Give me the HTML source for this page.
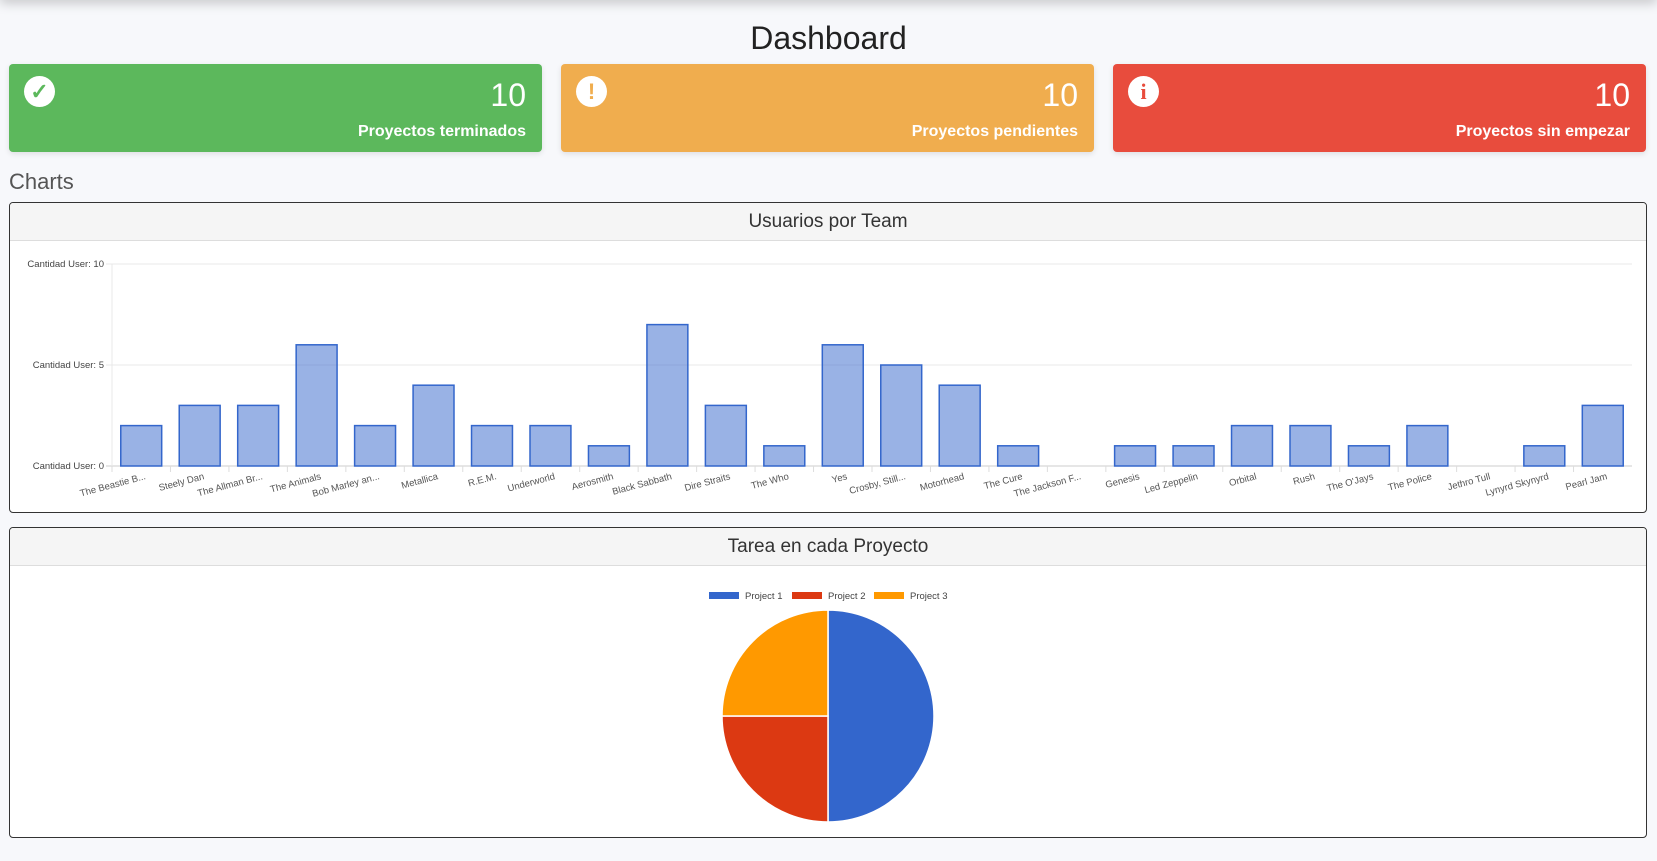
<!DOCTYPE html>
<html><head><meta charset="utf-8">
<style>
html,body{margin:0;padding:0;}
body{width:1657px;height:861px;background:#f7f8fb;font-family:"Liberation Sans",sans-serif;position:relative;overflow:hidden;}
.topbar{position:absolute;left:0;top:-10px;width:1657px;height:10px;box-shadow:0 2px 12px rgba(0,0,0,0.25);background:#fff;}
h1{position:absolute;top:20px;left:0;width:1657px;text-align:center;margin:0;font-weight:normal;font-size:32px;color:#222;}
.card{position:absolute;top:64px;height:88px;width:533px;border-radius:4px;color:#fff;box-shadow:0 2px 6px rgba(0,0,0,0.1);}
.card .num{position:absolute;right:16px;top:13px;font-size:32px;}
.card .lbl{position:absolute;right:16px;top:59px;font-size:16px;font-weight:bold;}
.card .ic{position:absolute;left:15px;top:12px;width:31px;height:31px;border-radius:50%;background:#fff;text-align:center;line-height:31px;font-weight:bold;font-size:22px;}
.charts{position:absolute;left:9px;top:169px;font-size:22px;color:#555;}
.panel{position:absolute;left:9px;width:1636px;border:1px solid #333;border-radius:4px;background:#fff;overflow:hidden;}
.panel .hd{height:37px;background:#f5f5f5;border-bottom:1px solid #ddd;text-align:center;line-height:37px;font-size:19px;color:#333;}
</style></head><body>
<div class="topbar"></div>
<h1>Dashboard</h1>
<div class="card" style="left:9px;background:#5cb85c">
 <div class="ic" style="color:#5cb85c">✓</div>
 <div class="num">10</div>
 <div class="lbl">Proyectos terminados</div></div>
<div class="card" style="left:561px;background:#f0ad4e">
 <div class="ic" style="color:#f0ad4e">!</div>
 <div class="num">10</div>
 <div class="lbl">Proyectos pendientes</div></div>
<div class="card" style="left:1113px;background:#e84c3d">
 <div class="ic" style="color:#e84c3d;font-family:'Liberation Serif',serif">i</div>
 <div class="num">10</div>
 <div class="lbl">Proyectos sin empezar</div></div>
<div class="charts">Charts</div>

<div class="panel" style="top:202px;height:309px">
 <div class="hd">Usuarios por Team</div>
 <svg id="bar" width="1636" height="272" style="position:absolute;left:0;top:38px"></svg>
</div>
<div class="panel" style="top:527px;height:309px">
 <div class="hd">Tarea en cada Proyecto</div>
 <svg id="pie" width="1636" height="272" style="position:absolute;left:0;top:38px"></svg>
</div>
<script>
const teams=["The Beastie B...","Steely Dan","The Allman Br...","The Animals","Bob Marley an...","Metallica","R.E.M.","Underworld","Aerosmith","Black Sabbath","Dire Straits","The Who","Yes","Crosby, Still...","Motorhead","The Cure","The Jackson F...","Genesis","Led Zeppelin","Orbital","Rush","The O'Jays","The Police","Jethro Tull","Lynyrd Skynyrd","Pearl Jam"];
const users=[2,3,3,6,2,4,2,2,1,7,3,1,6,5,4,1,0,1,1,2,2,1,2,0,1,3];
const yTicks=[0,5,10];
const projects=["Project 1","Project 2","Project 3"];
const tasks=[2,1,1];
const pieColors=["#3366cc","#dc3912","#ff9900"];
const NS="http://www.w3.org/2000/svg";
function mk(p,t,a){const e=document.createElementNS(NS,t);for(const k in a)e.setAttribute(k,a[k]);p.appendChild(e);return e;}
const bar=document.getElementById('bar');
const L=102,R=1622,B=225,T=23,yMax=10;
const ys=v=>B-(B-T)*v/yMax;
const bw=(R-L)/teams.length;
const xs=i=>L+bw*i;
yTicks.forEach(t=>{
 const g=mk(bar,'line',{x1:L-6,x2:R,y1:ys(t),y2:ys(t),stroke:t===0?'#ccc':'#e8e8e8'});
 
 const tx=mk(bar,'text',{x:L-8,y:ys(t)+3,'text-anchor':'end','font-size':'9.5','fill':'#444','font-family':'Liberation Sans'});
 tx.textContent='Cantidad User: '+t;
 
});
mk(bar,'line',{x1:L,x2:L,y1:T,y2:B,stroke:'#e8e8e8'});
teams.forEach((n,i)=>{
 const tk=mk(bar,'line',{x1:xs(i),x2:xs(i),y1:B,y2:B+6,stroke:'#ddd'});
 
 const w=bw*0.7,x=xs(i)+(bw-w)/2,y=ys(users[i]);
 if(users[i]>0){
  const r=mk(bar,'rect',{x:x,y:y,width:w,height:B-y,fill:'rgba(51,102,204,0.5)',stroke:'#3366cc','stroke-width':1.5});
  
 }
 const cx=xs(i)+bw/2;
 const tx=mk(bar,'text',{x:cx+5,y:B+13,'text-anchor':'end','font-size':'9.5','fill':'#555','font-family':'Liberation Sans',transform:`rotate(-15 ${cx+5} ${B+13})`});
 tx.textContent=n;
 
});
const pie=document.getElementById('pie');
const cx=818,cy=150,r=106;
const total=tasks.reduce((a,b)=>a+b,0);
let a0=-Math.PI/2;
tasks.forEach((v,i)=>{
 const a1=a0+2*Math.PI*v/total;
 const large=(a1-a0)>Math.PI?1:0;
 const d=`M${cx},${cy} L${cx+r*Math.cos(a0)},${cy+r*Math.sin(a0)} A${r},${r} 0 ${large} 1 ${cx+r*Math.cos(a1)},${cy+r*Math.sin(a1)} Z`;
 const p=mk(pie,'path',{d:d,fill:pieColors[i],stroke:'#fff','stroke-width':1.5});
 
 
 a0=a1;
});
const lx=[699,782,864];
projects.forEach((n,i)=>{
 const s=mk(pie,'rect',{x:lx[i],y:26,width:30,height:7,fill:pieColors[i]});
 
 const t=mk(pie,'text',{x:lx[i]+36,y:33,'font-size':'9.5','fill':'#444','font-family':'Liberation Sans'});
 t.textContent=n;
 
});
</script>
</body></html>
